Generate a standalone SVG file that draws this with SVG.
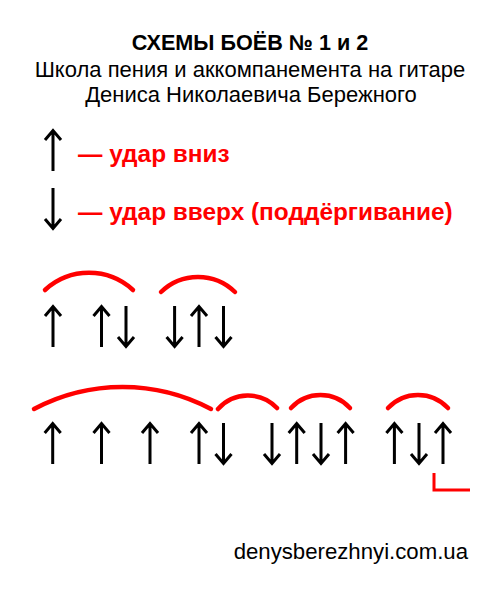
<svg xmlns="http://www.w3.org/2000/svg" xmlns:xlink="http://www.w3.org/1999/xlink" width="500" height="592" viewBox="0 0 500 592">
<style>
.t{font-family:"Liberation Sans",Arial,sans-serif;fill:#000;text-anchor:middle}
.b{font-weight:bold}
.leg{font-family:"Liberation Sans",Arial,sans-serif;font-weight:bold;font-size:24.4px;fill:#ff0000}
.arr{fill:none;stroke:#000;stroke-width:3;stroke-linejoin:miter}
.arc{fill:none;stroke:#ff0000;stroke-width:4.5;stroke-linecap:round}
.red{fill:none;stroke:#ff0000;stroke-width:3}
</style>
<defs>
<path id="up" class="arr" d="M0,42 V1.5 M-8,11 L0,1.5 L8,11"/>
<path id="dn" class="arr" d="M0,0 V40.5 M-8,31 L0,40.5 L8,31"/>
</defs>
<rect width="500" height="592" fill="#fff"/>
<g id="title">
<text class="t b" x="250" y="50" font-size="21.6">СХЕМЫ БОЁВ № 1 и 2</text>
<text class="t" x="250" y="77" font-size="22">Школа пения и аккомпанемента на гитаре</text>
<text class="t" x="251" y="102" font-size="22">Дениса Николаевича Бережного</text>
</g>
<g id="legend">
<use xlink:href="#up" x="53" y="129"/>
<text class="leg" x="78" y="162">— удар вниз</text>
<use xlink:href="#dn" x="53" y="188"/>
<text class="leg" x="78" y="220">— удар вверх (поддёргивание)</text>
</g>
<g id="scheme1">
<path class="arc" d="M45,290 A65,65 0 0 1 133,290"/>
<path class="arc" d="M161,292 A53,53 0 0 1 235,292"/>
<use xlink:href="#up" x="53" y="305"/>
<use xlink:href="#up" x="101.5" y="305"/>
<use xlink:href="#dn" x="126" y="306"/>
<use xlink:href="#dn" x="174.6" y="306"/>
<use xlink:href="#up" x="199" y="305"/>
<use xlink:href="#dn" x="223.5" y="306"/>
</g>
<g id="scheme2">
<path class="arc" d="M34,409 A189,189 0 0 1 211,409"/>
<path class="arc" d="M218,409 A40,40 0 0 1 277,408"/>
<path class="arc" d="M291,408 A40,40 0 0 1 350,408"/>
<path class="arc" d="M388,408 A41,41 0 0 1 448,408"/>
<use xlink:href="#up" x="52.7" y="422"/>
<use xlink:href="#up" x="101.5" y="422"/>
<use xlink:href="#up" x="150" y="422"/>
<use xlink:href="#up" x="199" y="422"/>
<use xlink:href="#dn" x="223.5" y="423"/>
<use xlink:href="#dn" x="272" y="423"/>
<use xlink:href="#up" x="296.7" y="422"/>
<use xlink:href="#dn" x="321" y="423"/>
<use xlink:href="#up" x="345.6" y="422"/>
<use xlink:href="#up" x="394.4" y="422"/>
<use xlink:href="#dn" x="419" y="423"/>
<use xlink:href="#up" x="443" y="422"/>
<path class="red" d="M434,473 V490 H470"/>
</g>
<g id="footer">
<text class="t" x="468" y="559" font-size="22.2" style="text-anchor:end">denysberezhnyi.com.ua</text>
</g>
</svg>
